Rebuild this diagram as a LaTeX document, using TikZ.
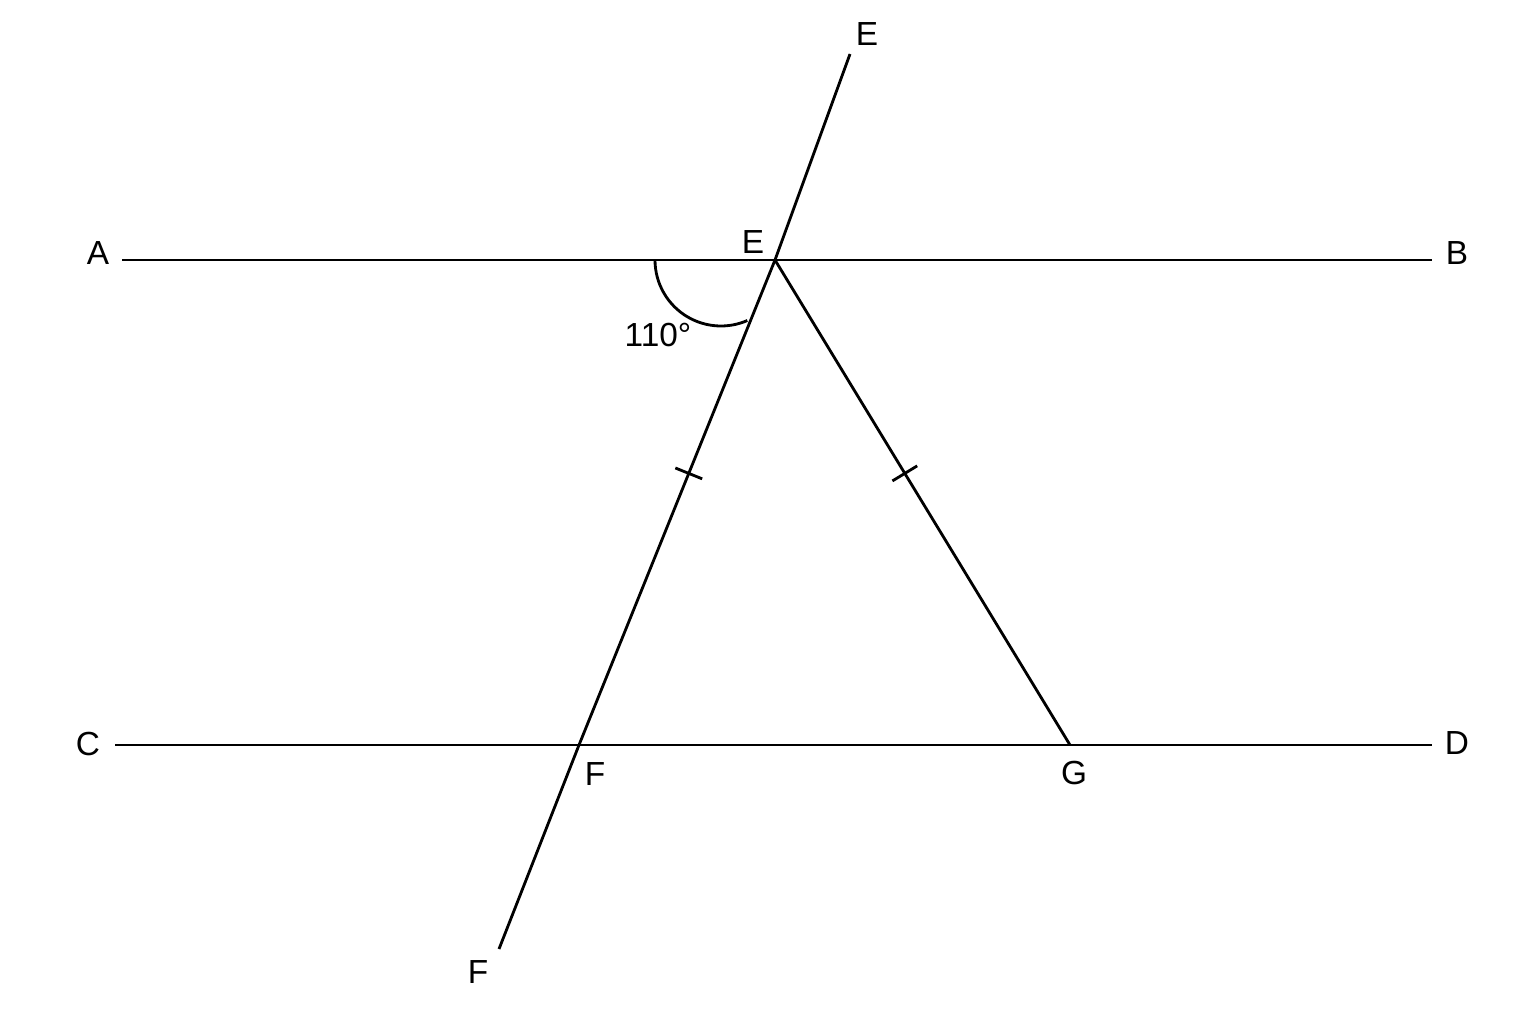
\documentclass[tikz,border=0pt]{standalone}
\usepackage{fontspec}
\setmainfont{Liberation Sans}
\usetikzlibrary{calc}

\tikzset{
	seg/.style={black, line width=0.8pt},
	lbl/.style={inner sep=0pt, font=\fontsize{9.5}{11}\selectfont},
}

\begin{document}
\begin{tikzpicture}
		\useasboundingbox[fill=white] (0, 0) rectangle (15.36, 10.24);

		%%% The points
		\coordinate (Astart) at (1.22, 7.64);
		\coordinate (Bend) at (14.32, 7.64);
		\coordinate (Cstart) at (1.15, 2.79);
		\coordinate (Dend) at (14.32, 2.79);
		\coordinate (E) at (7.75, 7.64);
		\coordinate (Etop) at (8.50, 9.70);
		\coordinate (F) at (5.79, 2.79);
		\coordinate (Fbot) at (4.99, 0.75);
		\coordinate (G) at (10.70, 2.79);

		%%% Parallel lines
		\draw[seg] (Astart) -- (Bend);
		\draw[seg] (Cstart) -- (Dend);

		%%% Transversal and triangle
		\draw[seg] (Etop) -- (E);
		\draw[seg] (E) -- (F) -- (Fbot);
		\draw[seg] (E) -- (G);

		%%% Equal sides
		\coordinate (tEF) at ($(E)!0.44!(F)$);
		\coordinate (tEG) at ($(E)!0.44!(G)$);
		\draw[seg] ($(tEF)!0.145cm!90:(F)$) -- ($(tEF)!0.145cm!-90:(F)$);
		\draw[seg] ($(tEG)!0.145cm!90:(G)$) -- ($(tEG)!0.145cm!-90:(G)$);

		%%% Angle
		\draw[seg] (6.55, 7.64) arc[start angle=180, end angle=293.5, radius=0.66];

		%%% Labels
		\node[lbl] (labA) at (0.98, 7.71) {A};
		\node[lbl] (labB) at (14.57, 7.71) {B};
		\node[lbl] (labC) at (0.88, 2.80) {C};
		\node[lbl] (labD) at (14.57, 2.81) {D};
		\node[lbl] (labE) at (7.53, 7.82) {E};
		\node[lbl] (labEtop) at (8.67, 9.90) {E};
		\node[lbl] (labF) at (5.95, 2.50) {F};
		\node[lbl] (labFbot) at (4.78, 0.52) {F};
		\node[lbl] (labG) at (10.74, 2.51) {G};
		\node[lbl] (angle) at (6.58, 6.89) {110°};
		\end{tikzpicture}
\end{document}
